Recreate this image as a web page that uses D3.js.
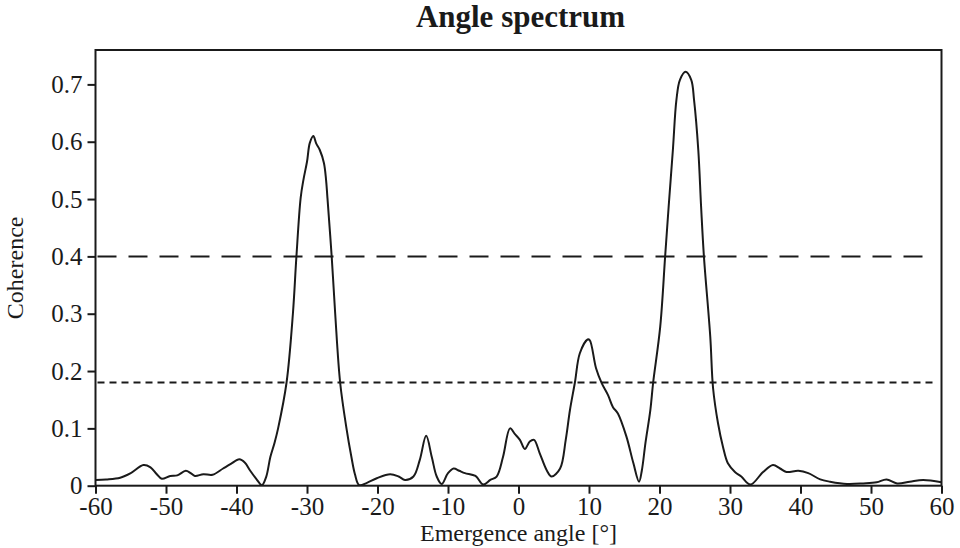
<!DOCTYPE html>
<html>
<head>
<meta charset="utf-8">
<script src="https://cdn.jsdelivr.net/npm/d3@7"></script>
<style>
  html, body { margin: 0; padding: 0; background: #fff; }
  svg { display: block; }
  text { font-family: "Liberation Serif", "Times New Roman", serif; fill: #1a1a1a; }
</style>
</head>
<body>
<svg id="chart" width="960" height="548"></svg>
<script>
const angles = [
  -60, -58.5, -56.5, -55.0, -53.2, -52.2, -51.3, -50.6, -49.4, -48.4, -47.2, -46.5, -45.9, -44.7, -43.4,
  -41.9, -40.8, -39.6, -38.8, -38.1, -37.2, -36.4, -35.8, -35.2, -34.6, -34.1, -32.9, -32.0, -31.5,
  -30.9, -30.5, -30.0, -29.6, -29.1, -28.7, -28.2, -27.6, -27.3, -27.1, -26.5, -26.0, -25.3, -24.4,
  -23.7, -23.2, -22.6, -21.5, -20.1, -18.2, -17.0, -16.1, -14.9, -14.0, -13.1, -12.3, -11.6, -10.9,
  -10.0, -9.2, -8.4, -7.6, -6.1, -5.0, -4.0, -3.1, -2.2, -1.2, -0.5, 0.2, 0.9, 1.6, 2.2, 3.0, 4.0, 4.7,
  5.9, 6.7, 7.3, 8.0, 8.7, 9.8, 10.1, 11.0, 11.8, 12.7, 13.4, 14.1, 15.3, 16.3, 17.1, 17.5, 18.0, 18.7,
  19.1, 20.1, 20.8, 21.3, 21.9, 22.4, 22.9, 23.7, 24.5, 24.9, 25.5, 25.9, 26.3, 27.2, 27.6, 28.3, 29.0,
  29.7, 30.7, 31.6, 32.9, 34.7, 36.1, 37.1, 38.0, 39.7, 41.1, 42.8, 44.2, 46.6, 48.9, 50.8, 52.2, 53.7,
  55.5, 57.4, 60
];
const coherence = [
  0.010, 0.011, 0.014, 0.022, 0.036, 0.032, 0.020, 0.012, 0.017, 0.018, 0.026, 0.022, 0.017, 0.020, 0.019,
  0.030, 0.038, 0.046, 0.040, 0.027, 0.012, 0.001, 0.015, 0.050, 0.075, 0.100, 0.180, 0.300, 0.400,
  0.502, 0.534, 0.565, 0.598, 0.610, 0.597, 0.586, 0.563, 0.534, 0.502, 0.400, 0.300, 0.180, 0.100,
  0.050, 0.020, 0.001, 0.005, 0.013, 0.020, 0.016, 0.010, 0.016, 0.045, 0.087, 0.050, 0.016, 0.003,
  0.022, 0.030, 0.026, 0.022, 0.017, 0.002, 0.010, 0.016, 0.050, 0.100, 0.090, 0.080, 0.064, 0.077, 0.080, 0.057, 0.027, 0.016,
  0.030, 0.080, 0.132, 0.180, 0.231, 0.255, 0.254, 0.205, 0.179, 0.158, 0.137, 0.126, 0.086, 0.039, 0.007, 0.027, 0.074, 0.132,
  0.180, 0.277, 0.400, 0.487, 0.586, 0.673, 0.708, 0.722, 0.708, 0.673, 0.586, 0.487, 0.400, 0.260, 0.170, 0.109, 0.068,
  0.039, 0.024, 0.016, 0.002, 0.024, 0.036, 0.030, 0.024, 0.026, 0.022, 0.011, 0.007, 0.003, 0.004, 0.006, 0.011, 0.004,
  0.007, 0.010, 0.006
];
const xTicks = [-60, -50, -40, -30, -20, -10, 0, 10, 20, 30, 40, 50, 60];
const yTicks = [0, 0.1, 0.2, 0.3, 0.4, 0.5, 0.6, 0.7];
const thresholds = [0.4, 0.18];
const titleText = "Angle spectrum";
const xLabel = "Emergence angle [°]";
const yLabel = "Coherence";

(function () {
const svg = d3.select("#chart");
const mLeft = 95.5, mRight = 941.5, mTop = 50, mBottom = 485.7;
const ink = "#1a1a1a";
const fontFam = '"Liberation Serif", "Times New Roman", serif';

const x = d3.scaleLinear().domain([-60, 60]).range([mLeft, mRight]);
const y = d3.scaleLinear().domain([0, 0.76]).range([mBottom, mTop]);

svg.append("defs").append("clipPath").attr("id", "plotclip")
  .append("rect").attr("x", mLeft).attr("y", mTop)
  .attr("width", mRight - mLeft).attr("height", mBottom - mTop);

// threshold lines
svg.append("line")
  .attr("x1", x(-60) + 2).attr("x2", x(58.3))
  .attr("y1", y(thresholds[0])).attr("y2", y(thresholds[0]))
  .attr("stroke", ink).attr("stroke-width", 2)
  .attr("stroke-dasharray", "19,12");
svg.append("line")
  .attr("x1", x(-60) + 2).attr("x2", x(59.4))
  .attr("y1", y(thresholds[1])).attr("y2", y(thresholds[1]))
  .attr("stroke", ink).attr("stroke-width", 2)
  .attr("stroke-dasharray", "7,5");

// curve
const pts = angles.map((a, i) => [a, coherence[i]]);
svg.append("path")
  .datum(pts)
  .attr("clip-path", "url(#plotclip)")
  .attr("fill", "none")
  .attr("stroke", ink)
  .attr("stroke-width", 2)
  .attr("stroke-linejoin", "round")
  .attr("d", d3.line().x(d => x(d[0])).y(d => y(d[1])).curve(d3.curveCatmullRom.alpha(0.5)));

// frame
svg.append("rect")
  .attr("x", mLeft).attr("y", mTop)
  .attr("width", mRight - mLeft).attr("height", mBottom - mTop)
  .attr("fill", "none").attr("stroke", ink).attr("stroke-width", 2);

// axes
const xAxis = d3.axisBottom(x).tickValues(xTicks).tickSize(8).tickPadding(4)
  .tickFormat(d => String(d));
const gx = svg.append("g").attr("transform", `translate(0,${mBottom})`).call(xAxis);
gx.select(".domain").remove();
gx.selectAll("line").attr("stroke", ink).attr("stroke-width", 2);
gx.selectAll("text").attr("font-size", 25).attr("fill", ink).style("font-family", fontFam);

const yAxis = d3.axisLeft(y).tickValues(yTicks).tickSize(8).tickPadding(5)
  .tickFormat(d => d === 0 ? "0" : d.toFixed(1));
const gy = svg.append("g").attr("transform", `translate(${mLeft},0)`).call(yAxis);
gy.select(".domain").remove();
gy.selectAll("line").attr("stroke", ink).attr("stroke-width", 2);
gy.selectAll("text").attr("font-size", 25).attr("fill", ink).style("font-family", fontFam);

// title
svg.append("text")
  .attr("x", (mLeft + mRight) / 2 + 2).attr("y", 27)
  .attr("text-anchor", "middle")
  .attr("font-size", 31).attr("font-weight", "bold")
  .text(titleText);

// axis labels
svg.append("text")
  .attr("x", (mLeft + mRight) / 2).attr("y", 541)
  .attr("text-anchor", "middle")
  .attr("font-size", 24)
  .text(xLabel);

svg.append("text")
  .attr("transform", `translate(23,${(mTop + mBottom) / 2}) rotate(-90)`)
  .attr("text-anchor", "middle")
  .attr("font-size", 24)
  .text(yLabel);
})();
</script>
</body>
</html>
